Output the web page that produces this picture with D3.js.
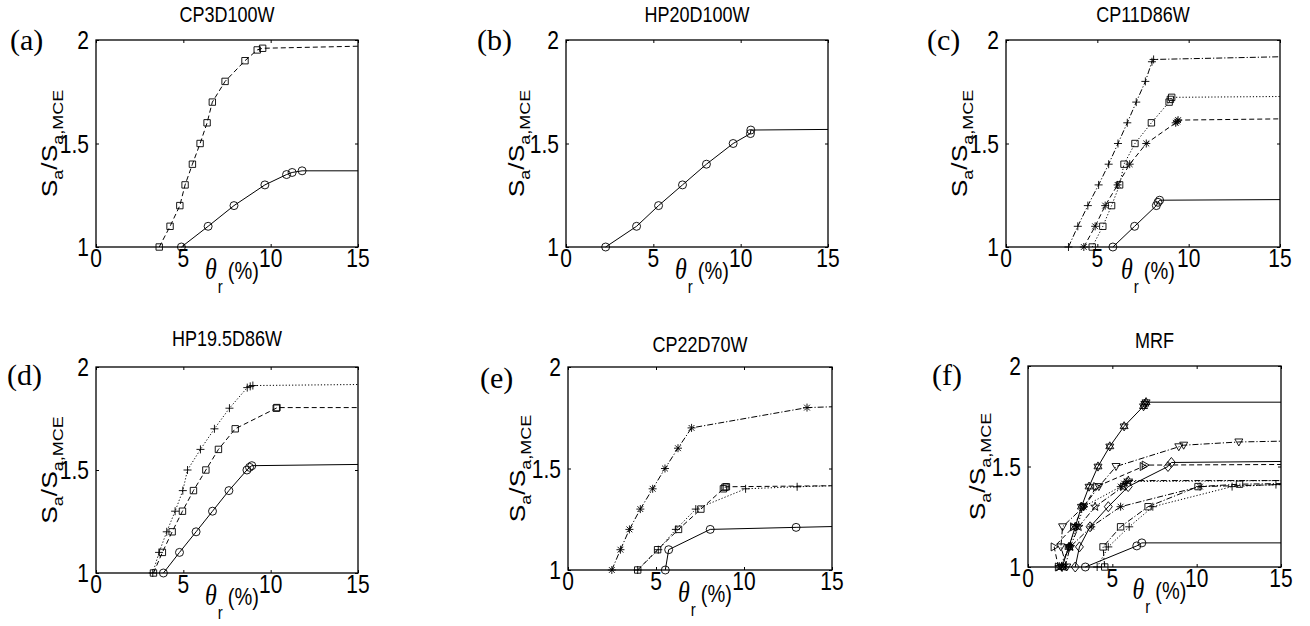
<!DOCTYPE html>
<html>
<head>
<meta charset="utf-8">
<script src="https://cdn.jsdelivr.net/npm/d3@7"></script>
<style>
  body { margin: 0; background: #fff; }
</style>
</head>
<body>
<div id="chart"></div>
<script>
// ---- data (theta_r %, Sa/Sa,MCE) ; last point of each series is the flat tail at theta = 15 ----
const titles = ["CP3D100W", "HP20D100W", "CP11D86W", "HP19.5D86W", "CP22D70W", "MRF"];
const tags = ["(a)", "(b)", "(c)", "(d)", "(e)", "(f)"];
const xTicks = [0, 5, 10, 15];
const yTicks = [1, 1.5, 2];
const yTickLabels = ["1", "1.5", "2"];

// (a)
const aSquare = [[3.62,1.0],[4.24,1.1],[4.80,1.2],[5.10,1.3],[5.52,1.4],[5.96,1.5],[6.36,1.6],[6.66,1.7],[7.39,1.8],[8.53,1.9],[9.23,1.952],[9.54,1.96],[15,1.97]];
const aCircle = [[4.89,1.0],[6.42,1.1],[7.90,1.2],[9.67,1.3],[10.91,1.35],[11.23,1.36],[11.80,1.368],[15,1.368]];
// (b)
const bCircle = [[2.27,1.0],[4.04,1.1],[5.30,1.2],[6.67,1.3],[8.04,1.4],[9.57,1.5],[10.56,1.548],[10.58,1.565],[15,1.568]];
// (c)
const cPlus = [[3.42,1.0],[3.93,1.1],[4.48,1.2],[5.07,1.3],[5.62,1.4],[6.13,1.5],[6.64,1.6],[7.13,1.7],[7.63,1.8],[7.99,1.895],[8.08,1.906],[15,1.919]];
const cSquare = [[4.72,1.0],[5.30,1.1],[5.78,1.2],[6.22,1.3],[6.46,1.4],[7.06,1.5],[7.96,1.6],[8.93,1.7],[9.00,1.713],[9.07,1.723],[15,1.727]];
const cStar = [[4.26,1.0],[4.88,1.1],[5.43,1.2],[6.11,1.3],[6.77,1.4],[7.68,1.5],[9.29,1.6],[9.37,1.606],[9.42,1.613],[15,1.619]];
const cCircle = [[5.85,1.0],[7.04,1.1],[8.23,1.2],[8.32,1.216],[8.41,1.226],[15,1.229]];
// (d)
const dPlus = [[3.25,1.0],[3.61,1.1],[4.05,1.2],[4.53,1.3],[4.97,1.4],[5.24,1.5],[5.98,1.6],[6.78,1.7],[7.64,1.8],[8.66,1.9],[8.83,1.906],[8.98,1.91],[15,1.915]];
const dSquare = [[3.29,1.0],[3.80,1.1],[4.36,1.2],[4.95,1.3],[5.58,1.4],[6.29,1.5],[7.01,1.6],[7.97,1.7],[10.32,1.8],[10.36,1.803],[15,1.803]];
const dCircle = [[3.86,1.0],[4.78,1.1],[5.73,1.2],[6.67,1.3],[7.61,1.4],[8.64,1.5],[8.79,1.513],[8.92,1.521],[15,1.527]];
// (e)
const eStar = [[2.49,1.0],[2.98,1.1],[3.49,1.2],[4.11,1.3],[4.81,1.4],[5.51,1.5],[6.25,1.6],[7.02,1.7],[13.58,1.8],[15,1.804]];
const ePlus = [[3.96,1.0],[5.13,1.1],[6.13,1.2],[7.26,1.3],[10.09,1.4],[13.02,1.41],[15,1.415]];
const eSquare = [[3.96,1.0],[5.09,1.1],[6.28,1.2],[7.55,1.3],[8.83,1.4],[8.92,1.408],[9.0,1.41],[15,1.415]];
const eCircle = [[5.53,1.0],[5.72,1.1],[8.08,1.2],[12.96,1.21],[15,1.214]];
// (f)
const fHexagram = [[2.02,1.0],[2.42,1.1],[2.8,1.2],[3.17,1.3],[3.62,1.4],[4.15,1.5],[4.85,1.6],[5.7,1.7],[6.85,1.8],[6.93,1.812],[7.0,1.82],[15,1.82]];
const fTriDown = [[2.3,1.0],[1.95,1.1],[2.05,1.2],[3.3,1.3],[4.2,1.4],[5.22,1.5],[8.94,1.598],[9.23,1.606],[12.5,1.622],[15,1.626]];
const fTriRight = [[1.8,1.0],[1.55,1.1],[2.7,1.2],[3.3,1.3],[4.07,1.4],[6.83,1.5],[6.95,1.507],[15,1.51]];
const fDiamond = [[2.8,1.0],[3.05,1.1],[3.68,1.2],[4.76,1.3],[5.94,1.4],[8.3,1.5],[8.5,1.52],[15,1.525]];
const fStarDot = [[2.0,1.0],[2.4,1.1],[2.9,1.2],[3.3,1.3],[5.5,1.4],[5.7,1.415],[5.85,1.425],[15,1.43]];
const fPentagram = [[1.85,1.0],[2.5,1.1],[3.0,1.2],[3.98,1.3],[5.65,1.4],[5.95,1.43],[15,1.43]];
const fStarLow = [[2.2,1.0],[2.5,1.1],[3.75,1.2],[5.49,1.3],[10.2,1.4],[15,1.41]];
const fSquare = [[4.55,1.0],[4.45,1.1],[5.49,1.2],[7.12,1.3],[10.08,1.4],[12.54,1.412],[15,1.415]];
const fPlus = [[4.1,1.0],[4.76,1.1],[6.0,1.2],[7.4,1.3],[12.1,1.4],[14.7,1.41],[15,1.41]];
const fCircle = [[3.4,1.0],[6.45,1.105],[6.75,1.12],[15,1.12]];

// series per panel: data, marker, line style
const panelSeries = [
  [[aSquare,'s','dash'],[aCircle,'o','solid']],
  [[bCircle,'o','solid']],
  [[cPlus,'+','dashdot'],[cSquare,'s','dot'],[cStar,'*','dash'],[cCircle,'o','solid']],
  [[dPlus,'+','dot'],[dSquare,'s','dash'],[dCircle,'o','solid']],
  [[eStar,'*','dashdot'],[ePlus,'+','dot'],[eSquare,'s','dash'],[eCircle,'o','solid']],
  [[fHexagram,'h','solid'],[fTriDown,'v','dashdot'],[fTriRight,'>','dash'],[fDiamond,'d','solid'],
   [fStarDot,'*','dot'],[fPentagram,'p','dashdot'],[fStarLow,'*','dashdot'],[fSquare,'s','dashdot'],
   [fPlus,'+','dot'],[fCircle,'o','solid']]
];

// layout (pixels)
const layout = [
  {x0: 96,   x1: 358,  y0: 40,  y1: 247, titleY: 22,  tagX: 10,  tagY: 50,  ylabDx: -39},
  {x0: 566,  x1: 828,  y0: 40,  y1: 247, titleY: 22,  tagX: 477, tagY: 50,  ylabDx: -42},
  {x0: 1006, x1: 1280, y0: 40,  y1: 247, titleY: 22,  tagX: 927, tagY: 50,  ylabDx: -39},
  {x0: 96,   x1: 358,  y0: 367, y1: 573, titleY: 346, tagX: 7,   tagY: 385, ylabDx: -39},
  {x0: 568,  x1: 832,  y0: 367, y1: 570, titleY: 352, tagX: 480, tagY: 388, ylabDx: -43},
  {x0: 1028, x1: 1281, y0: 366, y1: 567, titleY: 348, tagX: 932, tagY: 385, ylabDx: -43}
];

const dashes = {solid: null, dash: "5,3", dot: "1.2,2", dashdot: "6,2,1.2,2"};
const SY = 1.2;   // text in the source looks vertically stretched
const SANS = "'Liberation Sans', Arial, Helvetica, sans-serif";
const SERIF = "'Liberation Serif', 'Times New Roman', serif";

function starPath(n, ro, ri) {
  var p = [];
  for (var i = 0; i < 2 * n; i++) {
    var r = i % 2 ? ri : ro, a = -Math.PI / 2 + i * Math.PI / n;
    p.push([r * Math.cos(a), r * Math.sin(a)]);
  }
  return "M" + p.map(d => d[0].toFixed(2) + "," + d[1].toFixed(2)).join("L") + "Z";
}

function markerPath(t) {
  switch (t) {
    case 'o': return "M4,0A4,4 0 1,1 -4,0A4,4 0 1,1 4,0Z";
    case 's': return "M-3.2,-3.2H3.2V3.2H-3.2Z";
    case '+': return "M-4,0H4M0,-4V4";
    case '*': return "M-4,0H4M0,-4V4M-2.9,-2.9L2.9,2.9M-2.9,2.9L2.9,-2.9";
    case 'v': return "M-4,-3L4,-3L0,4Z";
    case '>': return "M-3,-4L4,0L-3,4Z";
    case 'd': return "M0,-5L4,0L0,5L-4,0Z";
    case 'p': return starPath(5, 4.6, 1.9);
    case 'h': return "M0,-4.6L4,2.3L-4,2.3Z M0,4.6L4,-2.3L-4,-2.3Z";
  }
}

var svg = d3.select("#chart").append("svg")
    .attr("width", 1310)
    .attr("height", 626);

svg.append("rect").attr("width", 1310).attr("height", 626).attr("fill", "#fff");

function stretched(g, x, y) {
  return g.append("g").attr("transform", `translate(${x},${y}) scale(1,${SY})`);
}

layout.forEach(function(L, i) {
  var g = svg.append("g").attr("class", "panel");

  var x = d3.scaleLinear().domain([0, 15]).range([L.x0, L.x1]);
  var y = d3.scaleLinear().domain([1, 2]).range([L.y1, L.y0]);

  // inward ticks on all four sides
  var axes = [
    [d3.axisBottom(x).tickValues(xTicks), `translate(0,${L.y1})`],
    [d3.axisTop(x).tickValues(xTicks), `translate(0,${L.y0})`],
    [d3.axisLeft(y).tickValues(yTicks), `translate(${L.x0},0)`],
    [d3.axisRight(y).tickValues(yTicks), `translate(${L.x1},0)`]
  ];
  axes.forEach(function(a) {
    var ag = g.append("g").attr("transform", a[1])
        .call(a[0].tickSize(-3).tickFormat(""));
    ag.select(".domain").remove();
    ag.selectAll("line").attr("stroke", "#000").attr("stroke-width", 1);
  });

  // series
  var line = d3.line().x(d => x(d[0])).y(d => y(d[1]));
  panelSeries[i].forEach(function(s) {
    g.append("path")
      .attr("d", line(s[0]))
      .attr("fill", "none")
      .attr("stroke", "#000")
      .attr("stroke-width", 1)
      .attr("stroke-dasharray", dashes[s[2]]);
    g.selectAll(null)
      .data(s[0].slice(0, -1))
      .enter().append("path")
      .attr("d", markerPath(s[1]))
      .attr("transform", d => `translate(${x(d[0])},${y(d[1])})`)
      .attr("fill", "none")
      .attr("stroke", "#000")
      .attr("stroke-width", 0.9);
  });

  // box
  g.append("rect")
    .attr("x", L.x0).attr("y", L.y0)
    .attr("width", L.x1 - L.x0).attr("height", L.y1 - L.y0)
    .attr("fill", "none").attr("stroke", "#000").attr("stroke-width", 1.3);

  // tick labels
  xTicks.forEach(function(v) {
    stretched(g, x(v), L.y1 + 20).append("text")
      .text(v).attr("text-anchor", "middle")
      .attr("font-family", SANS).attr("font-size", 21);
  });
  yTicks.forEach(function(v, k) {
    stretched(g, L.x0 - 7, y(v) + 9).append("text")
      .text(yTickLabels[k]).attr("text-anchor", "end")
      .attr("font-family", SANS).attr("font-size", 21);
  });

  // title
  stretched(g, (L.x0 + L.x1) / 2, L.titleY).append("text")
    .text(titles[i]).attr("text-anchor", "middle")
    .attr("font-family", SANS).attr("font-size", 18);

  // panel tag
  g.append("text")
    .attr("x", L.tagX).attr("y", L.tagY)
    .text(tags[i])
    .attr("font-family", SERIF).attr("font-size", 30);

  // x label: theta_r (%)
  var xl = stretched(g, (L.x0 + L.x1) / 2 - 22, L.y1 + 32).append("text")
      .attr("font-family", SANS).attr("font-size", 20);
  xl.append("tspan").text("θ").attr("font-family", SERIF).attr("font-style", "italic").attr("font-size", 24);
  xl.append("tspan").text("r").attr("font-size", 15).attr("dy", 12).attr("dx", 1);
  xl.append("tspan").text("(%)").attr("dy", -12).attr("dx", 5);

  // y label: Sa/Sa,MCE
  var yl = g.append("g")
      .attr("transform", `translate(${L.x0 + L.ylabDx},${(L.y0 + L.y1) / 2}) scale(1,${SY}) rotate(-90)`)
      .append("text")
      .attr("text-anchor", "middle")
      .attr("font-family", SANS).attr("font-size", 22);
  yl.append("tspan").text("S");
  yl.append("tspan").text("a").attr("font-size", 15).attr("dy", 6);
  yl.append("tspan").text("/S").attr("dy", -6);
  yl.append("tspan").text("a,MCE").attr("font-size", 15).attr("dy", 6);
});
</script>
</body>
</html>
